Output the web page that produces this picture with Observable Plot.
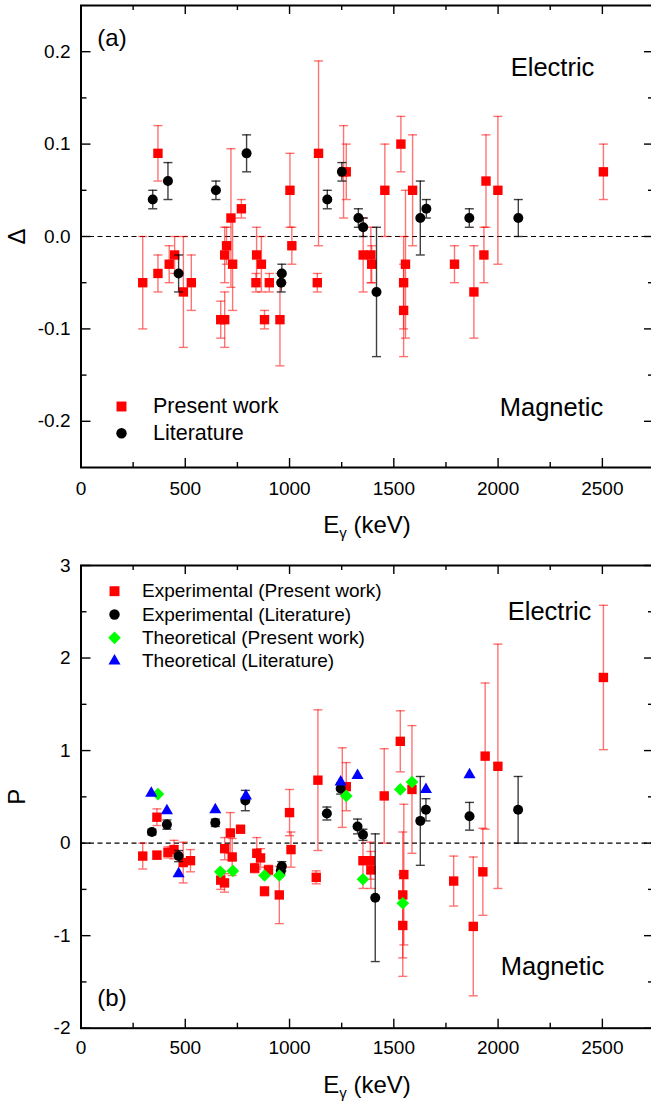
<!DOCTYPE html>
<html><head><meta charset="utf-8">
<script src="https://cdn.jsdelivr.net/npm/d3@7"></script>
<script src="https://cdn.jsdelivr.net/npm/@observablehq/plot@0.6"></script>
<style>
html,body{margin:0;padding:0;overflow:hidden;background:#fff;}
#chart svg{display:block;}
</style></head><body><div id="chart"></div>
<script>
// ---------- DATA ----------
// Panel (a): [E_gamma (keV), Delta, error]
const deltaPresent = [
  [296,-0.05,0.05],[369,0.09,0.03],[369,-0.04,0.02],[423,-0.03,0.02],[449,-0.02,0.02],
  [491,-0.06,0.06],[529,-0.05,0.03],[670,-0.09,0.02],[689,-0.09,0.03],[689,-0.02,0.03],
  [698,-0.01,0.02],[719,0.02,0.075],[727,-0.03,0.05],[769,0.03,0.01],[842,-0.02,0.03],
  [865,-0.03,0.03],[839,-0.05,0.01],[903,-0.05,0.01],[880,-0.09,0.01],[954,-0.09,0.05],
  [1002,0.05,0.04],[1011,-0.01,0.02],[1133,-0.05,0.01],[1139,0.09,0.10],[1259,0.07,0.05],
  [1272,0.07,0.03],[1353,-0.02,0.04],[1390,-0.02,0.03],[1394,-0.03,0.02],[1457,0.05,0.05],
  [1534,0.10,0.03],[1590,0.05,0.06],[1556,-0.03,0.08],[1547,-0.05,0.05],[1547,-0.08,0.05],
  [1791,-0.03,0.02],[1884,-0.06,0.05],[1932,-0.02,0.03],[1942,0.06,0.05],[1999,0.05,0.08],
  [2505,0.07,0.03]
];
const deltaLiterature = [
  [344,0.04,0.01],[417,0.06,0.02],[468,-0.04,0.02],[647,0.05,0.01],[794,0.09,0.02],
  [963,-0.04,0.01],[960,-0.05,0.01],[1181,0.04,0.01],[1251,0.07,0.01],[1330,0.02,0.01],
  [1353,0.01,0.01],[1417,-0.06,0.07],[1627,0.02,0.04],[1656,0.03,0.01],[1862,0.02,0.01],
  [2097,0.02,0.02]
];
// Panel (b): [E_gamma (keV), P, error]
const polPresent = [
  [296,-0.14,0.14],[364,0.28,0.09],[364,-0.13,0.04],[417,-0.10,0.06],[446,-0.07,0.1],
  [490,-0.21,0.22],[525,-0.19,0.12],[670,-0.40,0.1],[688,-0.43,0.1],[689,-0.06,0.12],
  [716,0.11,0.22],[725,-0.15,0.2],[765,0.15,0.03],[843,-0.11,0.17],[861,-0.16,0.1],
  [833,-0.27,0.05],[880,-0.52,0.05],[899,-0.29,0.05],[951,-0.56,0.31],[1000,0.33,0.25],
  [1007,-0.07,0.19],[1128,-0.37,0.07],[1136,0.68,0.76],[1253,0.60,0.43],[1272,0.61,0.26],
  [1352,-0.19,0.3],[1387,-0.19,0.2],[1390,-0.29,0.2],[1454,0.51,0.51],[1531,1.10,0.33],
  [1587,0.58,0.69],[1548,-0.34,0.76],[1543,-0.56,0.68],[1543,-0.89,0.55],[1787,-0.41,0.27],
  [1881,-0.90,0.75],[1927,-0.31,0.47],[1938,0.94,0.79],[1999,0.83,1.32],[2505,1.79,0.78]
];
const polLiterature = [
  [340,0.12,0.03],[412,0.20,0.05],[468,-0.14,0.06],[644,0.22,0.04],[788,0.46,0.11],
  [963,-0.25,0.05],[958,-0.30,0.04],[1179,0.32,0.07],[1245,0.59,0.06],[1326,0.18,0.08],
  [1352,0.09,0.06],[1411,-0.59,0.69],[1627,0.24,0.48],[1654,0.36,0.12],[1863,0.29,0.15],
  [2096,0.36,0.36]
];
const theoPresent = [
  [369,0.53],[668,-0.31],[728,-0.30],[880,-0.35],[951,-0.35],[1272,0.51],
  [1352,-0.39],[1531,0.58],[1587,0.66],[1543,-0.65]
];
const theoLiterature = [
  [337,0.54],[412,0.35],[468,-0.33],[644,0.36],[791,0.51],[1245,0.66],
  [1326,0.73],[1654,0.58],[1863,0.74]
];
// Axes / ticks
const xDomain = [0, 2750];
const xMajor = [0, 500, 1000, 1500, 2000, 2500];
const xMinor = [250, 750, 1250, 1750, 2250];
const yDomainA = [-0.25, 0.25];
const yMajorA = [-0.2, -0.1, 0.0, 0.1, 0.2];
const yMinorA = [-0.15, -0.05, 0.05, 0.15];
const yDomainB = [-2, 3];
const yMajorB = [-2, -1, 0, 1, 2, 3];
const yMinorB = [-1.5, -0.5, 0.5, 1.5, 2.5];
const legendA = ["Present work", "Literature"];
const legendB = ["Experimental (Present work)", "Experimental (Literature)", "Theoretical (Present work)", "Theoretical (Literature)"];

// ---------- RENDER ----------
const FONT = "'Liberation Sans', Arial, Helvetica, sans-serif";
const RED = "#ff0000", GREEN = "#00ff00", BLUE = "#0000ff";
const rows = a => a.map(([E, v, e]) => ({E, v, e}));
const capSymbol = {draw(ctx, size) { const r = Math.sqrt(size / Math.PI); ctx.moveTo(-r, 0); ctx.lineTo(r, 0); }};

function errMarks(data, color, opacity) {
  const o = {x: "E", stroke: color, strokeOpacity: opacity, strokeWidth: 1.4};
  return [
    Plot.ruleX(data, {...o, y1: d => d.v - d.e, y2: d => d.v + d.e}),
    Plot.dot(data, {...o, y: d => d.v + d.e, symbol: capSymbol, r: 4.5, fill: "none"}),
    Plot.dot(data, {...o, y: d => d.v - d.e, symbol: capSymbol, r: 4.5, fill: "none"})
  ];
}

function tickMarks(innerW, innerH, yMajor, yMinor) {
  const t = {stroke: "black", strokeWidth: 1.4};
  return [
    Plot.tickX(xMajor, {x: d => d, insetTop: innerH - 9, ...t}),
    Plot.tickX(xMajor, {x: d => d, insetBottom: innerH - 9, ...t}),
    Plot.tickX(xMinor, {x: d => d, insetTop: innerH - 5, ...t}),
    Plot.tickX(xMinor, {x: d => d, insetBottom: innerH - 5, ...t}),
    Plot.tickY(yMajor, {y: d => d, insetRight: innerW - 10, ...t}),
    Plot.tickY(yMajor, {y: d => d, insetLeft: innerW - 10, ...t}),
    Plot.tickY(yMinor, {y: d => d, insetRight: innerW - 6, ...t}),
    Plot.tickY(yMinor, {y: d => d, insetLeft: innerW - 6, ...t})
  ];
}

// text placed relative to the frame's top-left corner, centred on (dx, dy)
function label(s, dx, dy, fontSize, anchor = "middle", extra = {}) {
  return Plot.text([s], {frameAnchor: "top-left", dx, dy, fontSize, textAnchor: anchor, lineAnchor: "middle", ...extra});
}

function addXTitle(svg, yBase) {
  const t = d3.select(svg).append("text")
    .attr("x", 367).attr("y", yBase).attr("text-anchor", "middle")
    .attr("font-size", 24).attr("fill", "black").style("font-family", FONT);
  t.append("tspan").text("E");
  t.append("tspan").attr("font-size", 15).attr("dy", 5).text("γ");
  t.append("tspan").attr("dy", -5).text(" (keV)");
}

const W = 656, mL = 80.5, mR = 2;
const innerW = W - mL - mR;
const style = {fontFamily: FONT, fontSize: "19px", background: "white", color: "black", maxWidth: "none"};

// Panel (a)
const HA = 548, mTA = 5, mBA = 81, innerHA = HA - mTA - mBA;
const pA = rows(deltaPresent), lA = rows(deltaLiterature);
const svgA = Plot.plot({
  width: W, height: HA, marginLeft: mL, marginRight: mR, marginTop: mTA, marginBottom: mBA,
  style,
  x: {domain: xDomain},
  y: {domain: yDomainA},
  marks: [
    Plot.ruleY([0], {stroke: "black", strokeDasharray: "5,3.5", strokeWidth: 1.2}),
    ...errMarks(pA, RED, 0.55),
    Plot.dot(pA, {x: "E", y: "v", symbol: "square", r: 5.3, fill: RED}),
    ...errMarks(lA, "black", 0.75),
    Plot.dot(lA, {x: "E", y: "v", r: 5, fill: "black"}),
    ...tickMarks(innerW, innerHA, yMajorA, yMinorA),
    Plot.frame({stroke: "black", strokeWidth: 2}),
    Plot.axisX({ticks: xMajor, tickSize: 0, tickPadding: 14, label: null, tickFormat: d => String(d), fontSize: 19}),
    Plot.axisY({ticks: yMajorA, tickSize: 0, tickPadding: 10.5, label: null, tickFormat: d => d.toFixed(1), fontSize: 19}),
    Plot.text(["Δ"], {frameAnchor: "left", dx: -64, rotate: -90, fontSize: 24, textAnchor: "middle", lineAnchor: "middle"}),
    label("(a)", 31, 32.5, 24),
    label("Electric", 471.5, 62, 25.5),
    label("Magnetic", 470.5, 402, 25.5),
    Plot.dot([legendA[0]], {frameAnchor: "top-left", dx: 40.5, dy: 401, symbol: "square", r: 5.6, fill: RED}),
    Plot.dot([legendA[1]], {frameAnchor: "top-left", dx: 40.5, dy: 427.7, r: 5.2, fill: "black"}),
    label(legendA[0], 72, 401, 21.5, "start"),
    label(legendA[1], 72, 427.7, 21.5, "start")
  ]
});
addXTitle(svgA, 533);

// Panel (b)
const HB = 553, mTB = 17, mBB = 73.3, innerHB = HB - mTB - mBB;
const pB = rows(polPresent), lB = rows(polLiterature);
const tP = theoPresent.map(([E, v]) => ({E, v}));
const tL = theoLiterature.map(([E, v]) => ({E, v}));
const legY = [25.7, 49, 72.3, 95.6];
const svgB = Plot.plot({
  width: W, height: HB, marginLeft: mL, marginRight: mR, marginTop: mTB, marginBottom: mBB,
  style,
  x: {domain: xDomain},
  y: {domain: yDomainB},
  marks: [
    Plot.ruleY([0], {stroke: "black", strokeDasharray: "5,3.5", strokeWidth: 1.2}),
    ...errMarks(pB, RED, 0.55),
    Plot.dot(pB, {x: "E", y: "v", symbol: "square", r: 5.3, fill: RED}),
    ...errMarks(lB, "black", 0.75),
    Plot.dot(lB, {x: "E", y: "v", r: 5, fill: "black"}),
    Plot.dot(tP, {x: "E", y: "v", symbol: "diamond2", r: 5.7, fill: GREEN}),
    Plot.dot(tL, {x: "E", y: "v", symbol: "triangle", r: 4.5, fill: BLUE}),
    ...tickMarks(innerW, innerHB, yMajorB, yMinorB),
    Plot.frame({stroke: "black", strokeWidth: 2}),
    Plot.axisX({ticks: xMajor, tickSize: 0, tickPadding: 12, label: null, tickFormat: d => String(d), fontSize: 19}),
    Plot.axisY({ticks: yMajorB, tickSize: 0, tickPadding: 10.5, label: null, tickFormat: d => String(d), fontSize: 19}),
    Plot.text(["P"], {frameAnchor: "left", dx: -64, rotate: -90, fontSize: 24, textAnchor: "middle", lineAnchor: "middle"}),
    label("(b)", 31, 433, 24),
    label("Electric", 468.5, 46.5, 25.5),
    label("Magnetic", 471.5, 401, 25.5),
    Plot.dot([legendB[0]], {frameAnchor: "top-left", dx: 33.5, dy: legY[0], symbol: "square", r: 5.6, fill: RED}),
    Plot.dot([legendB[1]], {frameAnchor: "top-left", dx: 33.5, dy: legY[1], r: 5.2, fill: "black"}),
    Plot.dot([legendB[2]], {frameAnchor: "top-left", dx: 33.5, dy: legY[2], symbol: "diamond2", r: 5.7, fill: GREEN}),
    Plot.dot([legendB[3]], {frameAnchor: "top-left", dx: 33.5, dy: legY[3], symbol: "triangle", r: 4.5, fill: BLUE}),
    ...legendB.map((s, i) => label(s, 61, legY[i], 19, "start"))
  ]
});
addXTitle(svgB, 545);

document.getElementById("chart").append(svgA, svgB);
</script></body></html>
